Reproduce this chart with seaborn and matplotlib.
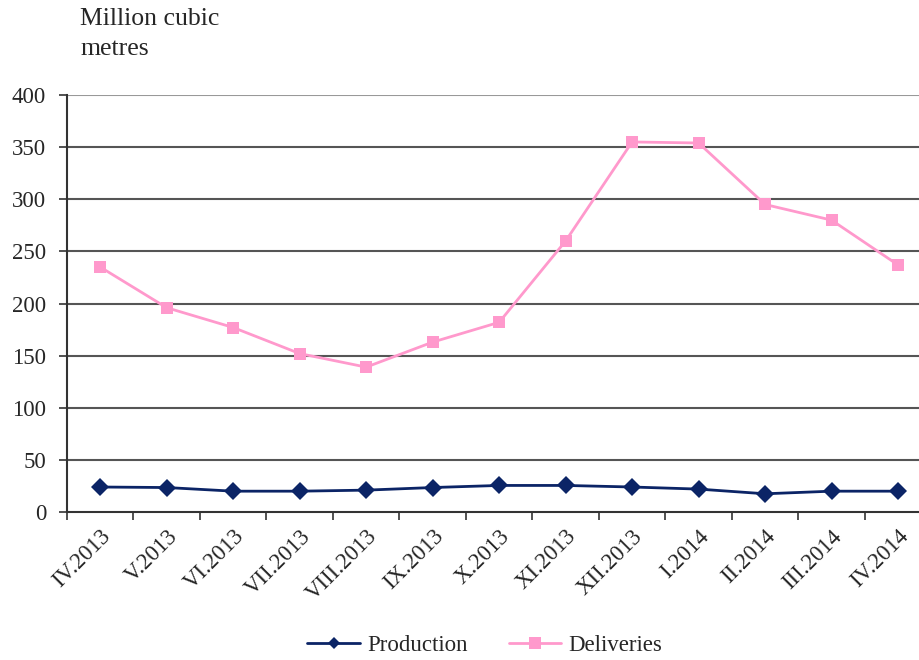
import pandas as pd
import seaborn as sns
import matplotlib.pyplot as plt

# Monthly values, million cubic metres
months = ['IV.2013', 'V.2013', 'VI.2013', 'VII.2013', 'VIII.2013', 'IX.2013', 'X.2013',
          'XI.2013', 'XII.2013', 'I.2014', 'II.2014', 'III.2014', 'IV.2014']
production = [24, 23.5, 20, 20, 21, 23.5, 25.5, 25.5, 24, 22, 17.5, 20, 20]
deliveries = [235, 196, 177, 152, 139, 163, 182, 260, 355, 354, 295, 280, 237]

df = pd.DataFrame({'Month': months * 2,
                   'Value': production + deliveries,
                   'Series': ['Production'] * len(months) + ['Deliveries'] * len(months)})

sns.set_style('white')
plt.rcParams['font.family'] = ['Liberation Serif', 'DejaVu Serif']

fig = plt.figure(figsize=(9.2, 6.6), dpi=100)
ax = fig.add_axes([0.0728, 0.2242, 0.9272, 0.6318])

# Horizontal gridlines behind the lines
for v in range(50, 401, 50):
    ax.axhline(v, color='#555555' if v < 400 else '#999999', lw=1.5, zorder=0)

sns.lineplot(data=df, x='Month', y='Value', hue='Series', style='Series',
             palette={'Production': '#0B2466', 'Deliveries': '#FF99CC'},
             markers={'Production': 'D', 'Deliveries': 's'},
             dashes=False, sort=False, lw=2, markersize=9, markeredgewidth=0,
             ax=ax, legend=False)

ax.set_xlim(-0.5, 12.33)
ax.set_ylim(0, 400)
ax.set_yticks(range(0, 401, 50))
ax.set_xticks([i - 0.5 for i in range(13)], minor=True)
ax.set_xticks(range(13))
ax.set_xticklabels(months, rotation=45, ha='right', rotation_mode='anchor', fontsize=16.5)
ax.tick_params(axis='x', which='major', length=0, pad=10)
ax.tick_params(axis='x', which='minor', length=6, width=1.2, color='#333333', direction='out', bottom=True)
ax.tick_params(axis='y', length=6, width=1.2, color='#333333', direction='out', left=True,
               labelsize=16.5, pad=9)
ax.set_xlabel('')
ax.set_ylabel('')
for side in ['top', 'right']:
    ax.spines[side].set_visible(False)
ax.spines['left'].set_color('#333333')
ax.spines['left'].set_linewidth(1.5)
ax.spines['bottom'].set_color('#333333')
ax.spines['bottom'].set_linewidth(1.5)

fig.text(0.087, 0.988, 'Million cubic\nmetres', fontsize=18.5, va='top', ha='left', linespacing=1.45)

# Legend below the chart
handles = [plt.Line2D([], [], color='#0B2466', marker='D', lw=2, markersize=6, markeredgewidth=0),
           plt.Line2D([], [], color='#FF99CC', marker='s', lw=2, markersize=8, markeredgewidth=0)]
fig.legend(handles, ['Production', 'Deliveries'], loc='lower center', bbox_to_anchor=(0.527, -0.025),
           ncol=2, frameon=False, fontsize=16.5, handlelength=2.3, handletextpad=0.3, columnspacing=1.8)

plt.savefig('out.png', dpi=100)
